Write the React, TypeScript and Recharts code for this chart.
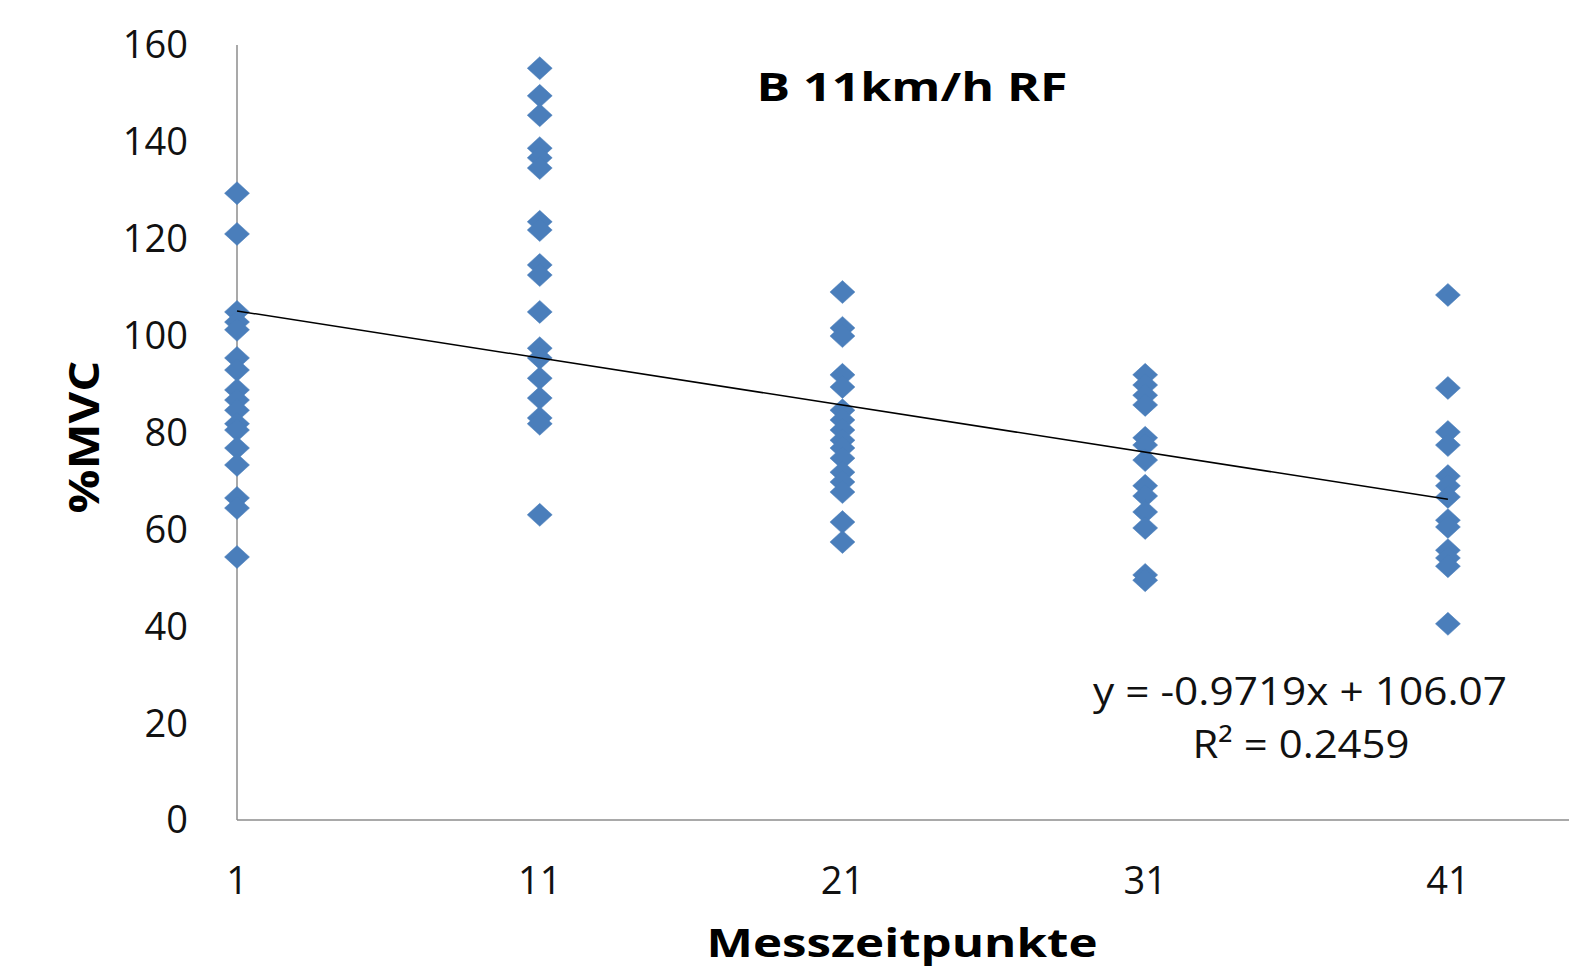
import React from 'react';
import { ScatterChart, Scatter, XAxis, YAxis } from 'recharts';

const xTicks = [1, 11, 21, 31, 41];
const yTicks = [0, 20, 40, 60, 80, 100, 120, 140, 160];

const values1 = [129.4, 121, 104.9, 102.8, 101.2, 95.4, 92.9, 88.8, 86.7, 84.6, 81.8, 80.5, 76.8, 73.3, 66.5, 64.4, 54.3];
const values11 = [155.2, 149.5, 145.5, 138.7, 136.7, 134.6, 123.5, 121.8, 114.6, 112.5, 104.9, 97.4, 95.4, 91.2, 87.1, 83, 81.8, 63];
const values21 = [109, 101.6, 99.9, 91.9, 89.4, 84.6, 82.6, 80.5, 78.4, 76.8, 74.7, 71.8, 69.8, 67.7, 61.5, 57.4];
const values31 = [91.9, 89.8, 87.7, 85.7, 78.9, 77.4, 74.3, 69, 66.9, 63.6, 60.3, 50.6, 49.5];
const values41 = [108.4, 89.2, 80.1, 77.4, 71, 69, 66.7, 61.9, 60.5, 55.7, 54.1, 52.4, 40.5];

const trendSlope = -0.9719;
const trendIntercept = 106.07;
const trendRange = [1, 41];

const columns: [number, number[]][] = [
  [1, values1],
  [11, values11],
  [21, values21],
  [31, values31],
  [41, values41],
];
const points = columns.flatMap(([x, vals]) => vals.map((y) => ({ x, y })));
const trend = trendRange.map((x) => ({ x, y: trendSlope * x + trendIntercept }));

const BLUE = '#4a7ebb';
const FONT = '"Open Sans", "DejaVu Sans", sans-serif';

const Diamond = (props: any) => {
  const { cx, cy } = props;
  if (cx == null || cy == null) return null;
  const w = 12.5;
  const h = 11.5;
  return (
    <polygon
      points={`${cx},${cy - h} ${cx + w},${cy} ${cx},${cy + h} ${cx - w},${cy}`}
      fill={BLUE}
      stroke={BLUE}
      strokeWidth={0.5}
    />
  );
};

const NoShape = () => null;

export default function App() {
  return (
    <div style={{ position: 'absolute', left: 0, top: 0, width: 1569, height: 970, background: '#fff' }}>
      <ScatterChart width={1569} height={970} margin={{ top: 45, right: 0, bottom: 0, left: 0 }}>
        <XAxis
          type="number"
          dataKey="x"
          domain={[1, 45]}
          ticks={xTicks}
          height={150}
          tickSize={0}
          tickMargin={47}
          axisLine={{ stroke: '#8c8c8c', strokeWidth: 1.5 }}
          tick={{ fill: '#111', fontSize: 38, fontFamily: FONT }}
        />
        <YAxis
          type="number"
          dataKey="y"
          domain={[0, 160]}
          ticks={yTicks}
          width={237}
          tickSize={0}
          tickMargin={49}
          axisLine={{ stroke: '#8c8c8c', strokeWidth: 1.5 }}
          tick={{ fill: '#111', fontSize: 38, fontFamily: FONT }}
        />
        <Scatter data={points} shape={Diamond} isAnimationActive={false} />
        <Scatter
          data={trend}
          shape={NoShape}
          line={{ stroke: '#000', strokeWidth: 1.5 }}
          isAnimationActive={false}
        />
      </ScatterChart>
      <svg
        width={1569}
        height={970}
        style={{ position: 'absolute', left: 0, top: 0, pointerEvents: 'none' }}
      >
        <text
          x={912}
          y={101}
          textAnchor="middle"
          fontFamily={FONT}
          fontWeight="bold"
          fontSize={40}
          fill="#000"
          textLength={311}
          lengthAdjust="spacingAndGlyphs"
        >
          B 11km/h RF
        </text>
        <text
          transform="translate(99,437) rotate(-90)"
          textAnchor="middle"
          fontFamily={FONT}
          fontWeight="bold"
          fontSize={42}
          fill="#000"
          textLength={153}
          lengthAdjust="spacingAndGlyphs"
        >
          %MVC
        </text>
        <text
          x={902}
          y={957}
          textAnchor="middle"
          fontFamily={FONT}
          fontWeight="bold"
          fontSize={39}
          fill="#000"
          textLength={391}
          lengthAdjust="spacingAndGlyphs"
        >
          Messzeitpunkte
        </text>
        <text
          x={1300}
          y={705}
          textAnchor="middle"
          fontFamily={FONT}
          fontSize={38}
          fill="#111"
          textLength={414}
          lengthAdjust="spacingAndGlyphs"
        >
          y = -0.9719x + 106.07
        </text>
        <text
          x={1301}
          y={758}
          textAnchor="middle"
          fontFamily={FONT}
          fontSize={38}
          fill="#111"
          textLength={217}
          lengthAdjust="spacingAndGlyphs"
        >
          R² = 0.2459
        </text>
      </svg>
    </div>
  );
}
